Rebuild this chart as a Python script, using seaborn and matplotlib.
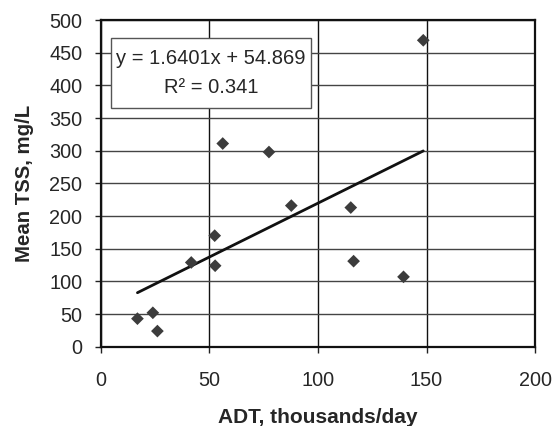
"""
Mean TSS vs ADT scatter with linear trendline (Excel-style chart).
"""

import numpy as np
import pandas as pd
import matplotlib
matplotlib.use('Agg')
import matplotlib.pyplot as plt
from matplotlib.patches import Rectangle
import seaborn as sns

# --- data ---
adt = [16.8, 23.9, 26.0, 41.6, 52.4, 52.6, 56.1, 77.4, 87.7, 115.1, 116.4, 139.4, 148.5]
tss = [43, 52, 24, 129, 170, 124, 311, 298, 216, 213, 131, 107, 469]
x_ticks = [0, 50, 100, 150, 200]
y_ticks = [0, 50, 100, 150, 200, 250, 300, 350, 400, 450, 500]
eq_text = 'y = 1.6401x + 54.869'
r2_text = 'R\u00b2 = 0.341'

df = pd.DataFrame({'ADT': adt, 'TSS': tss})

sns.set_style('white')
plt.rcParams['font.family'] = ['Liberation Sans', 'DejaVu Sans']

fig = plt.figure(figsize=(5.53, 4.26), dpi=100)
ax = fig.add_axes([0.1826, 0.186, 0.7849, 0.767])

# grid first so points sit above it
ax.set_axisbelow(True)
ax.grid(True, axis='x', color='#111111', linewidth=1.0)
ax.grid(True, axis='y', color='#444444', linewidth=1.0)

sns.regplot(data=df, x='ADT', y='TSS', scatter=False, ci=None, truncate=True,
            color='#111111', line_kws={'linewidth': 2.0}, ax=ax)
sns.scatterplot(data=df, x='ADT', y='TSS', marker='D', s=42, color='#3c3c3c',
                edgecolor='none', ax=ax, zorder=3)

ax.set_xlim(0, 200)
ax.set_ylim(0, 500)
ax.set_xticks(x_ticks)
ax.set_yticks(y_ticks)
ax.tick_params(axis='both', direction='out', length=4.5, width=1.0,
               color='#222222', labelsize=14.3, left=True, bottom=True)
ax.tick_params(axis='y', pad=9)
ax.tick_params(axis='x', pad=13)

for side in ['left', 'bottom', 'right', 'top']:
    ax.spines[side].set_visible(True)
    ax.spines[side].set_color('#111111')
    ax.spines[side].set_linewidth(1.6)

ax.set_xlabel('ADT, thousands/day', fontsize=15, fontweight='bold', labelpad=13)
ax.set_ylabel('Mean TSS, mg/L', fontsize=14.7, fontweight='bold', labelpad=11)

# equation box
box = Rectangle((0.022, 0.732), 0.462, 0.212, transform=ax.transAxes,
                facecolor='white', edgecolor='#555555', linewidth=1.0, zorder=4)
ax.add_patch(box)
ax.text(0.253, 0.883, eq_text, transform=ax.transAxes, ha='center', va='center',
        fontsize=14.5, zorder=5)
ax.text(0.253, 0.794, r2_text, transform=ax.transAxes, ha='center', va='center',
        fontsize=14.5, zorder=5)

fig.savefig('out.png', dpi=100)
plt.close(fig)
